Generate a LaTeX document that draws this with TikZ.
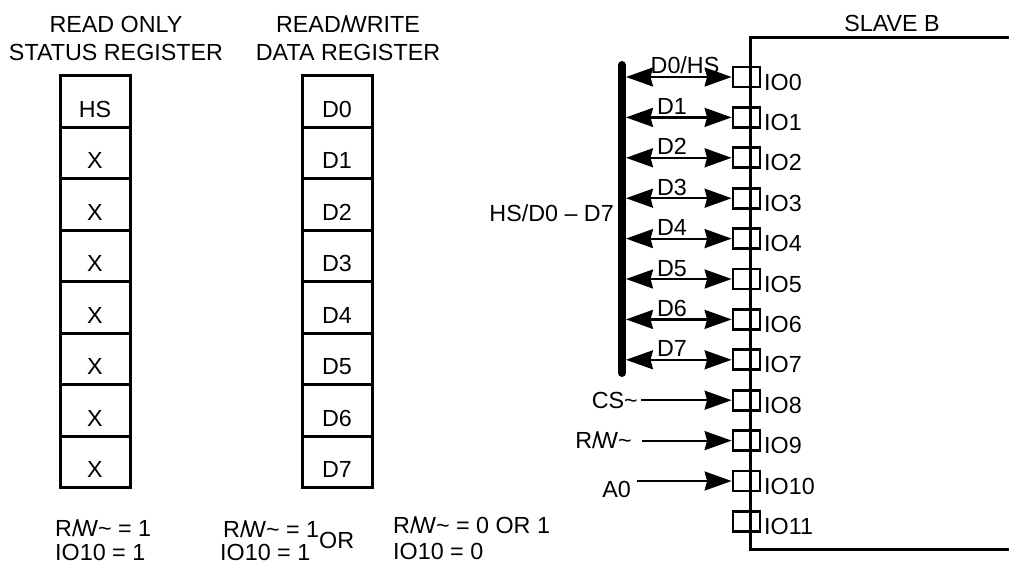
\documentclass[tikz,border=0pt]{standalone}
\usepackage{fontspec}
\setmainfont{Liberation Sans}
\usetikzlibrary{arrows.meta}
\newcommand{\rwtxt}{R/\kern-2.5pt W\textasciitilde}
\begin{document}
\begin{tikzpicture}[x=1pt,y=-1pt,font=\fontsize{23.3}{27}\selectfont,
  txt/.style={inner sep=0pt},
  cell/.style={draw,line width=3pt,minimum width=70pt,minimum height=51.5pt,inner sep=0pt,text height=32pt,text depth=0pt},
  port/.style={draw,line width=2.8pt,minimum width=27pt,minimum height=20pt,inner sep=0pt},
  tiphead/.style={Stealth[length=27pt,width=19pt,inset=2.5pt]},
  biarrow/.style={line width=2.2pt,{Stealth[length=27pt,width=19pt,inset=2.5pt]}-{Stealth[length=27pt,width=19pt,inset=2.5pt]}},
  oarrow/.style={line width=2.2pt,-{Stealth[length=27pt,width=19pt,inset=2.5pt]}},
  busline/.style={line width=8pt,line cap=round}]
\useasboundingbox (0,0) rectangle (1009,563);

% titles
\node[txt,anchor=base] (t1) at (116,32) {READ ONLY};
\node[txt,anchor=base] (t2) at (116,60) {STATUS REGISTER};
\node[txt,anchor=base] (t3) at (348,32) {READ/\kern-2.5pt WRITE};
\node[txt,anchor=base] (t4) at (348,60) {DATA REGISTER};

% registers
\foreach \t [count=\i from 0] in {HS,X,X,X,X,X,X,X}
  \node[cell] (s\i) at (95,{101.25+51.5*\i}) {\t};
\foreach \i in {0,...,7}
  \node[cell] (r\i) at (337,{101.25+51.5*\i}) {D\i};

% slave box
\node[draw,line width=2.6pt,minimum width=300pt,minimum height=512pt,anchor=north west,inner sep=0pt] (slave) at (749,36) {};
\node[txt,anchor=base] (sb) at (892,31) {SLAVE B};

% ports
\foreach \i in {0,...,11}{
  \node[port] (io\i) at (746.5,{77+40.4*\i}) {};
  \node[txt,anchor=base west] (l\i) at (764,{90+40.4*\i}) {IO\i};
}

% bus
\coordinate (bt) at (622,65);
\coordinate (bb) at (622,373);
\draw[busline] (bt) -- (bb);
\node[txt,anchor=base east] (busl) at (614,221) {HS/D0 \textendash\ D7};

\foreach \i in {0,...,7}{
  \coordinate (b\i) at (626,{77+40.4*\i});
  \draw[biarrow] (b\i) -- (io\i.west);
}
\node[txt,anchor=base] (d0) at (685,73) {D0/HS};
\foreach \i in {1,...,7}
  \node[txt,anchor=base] (d\i) at (672,{74+40.4*\i}) {D\i};

% control inputs
\node[txt,anchor=east,inner xsep=3pt] (cs) at (641,{77+40.4*8}) {CS\textasciitilde};
\node[txt,anchor=east,inner xsep=10pt] (rw) at (642,{77+40.4*9}) {\rwtxt};
\node[txt,anchor=base east] (a0) at (631,497) {A0};
\coordinate (a0s) at (637,{77+40.4*10});
\draw[oarrow] (cs.east) -- (io8.west);
\draw[oarrow] (rw.east) -- (io9.west);
\draw[oarrow] (a0s) -- (io10.west);

% bottom notes
\node[txt,anchor=base west] (n1a) at (55,536) {\rwtxt\ = 1};
\node[txt,anchor=base west] (n1b) at (55,560) {IO10 = 1};
\node[txt,anchor=base west] (n2a) at (223,537) {\rwtxt\ = 1};
\node[txt,anchor=base west] (n2b) at (220,560) {IO10 = 1};
\node[txt,anchor=base west] (n2c) at (319,548) {OR};
\node[txt,anchor=base west] (n3a) at (393,533) {\rwtxt\ = 0 OR 1};
\node[txt,anchor=base west] (n3b) at (393,559.5) {IO10 = 0};
\end{tikzpicture}
\end{document}
